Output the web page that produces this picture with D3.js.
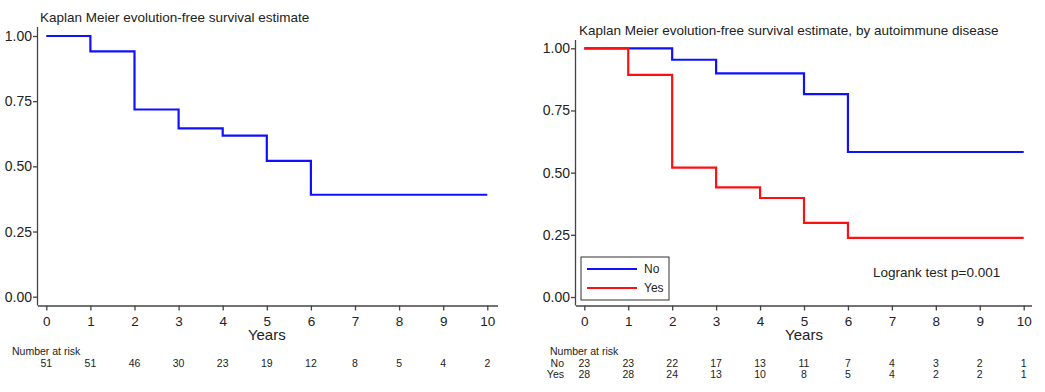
<!DOCTYPE html>
<html><head><meta charset="utf-8">
<script src="https://cdn.jsdelivr.net/npm/d3@7"></script>
<style>
body{margin:0;background:#fff;}
svg{display:block;font-family:"Liberation Sans",Arial,sans-serif;}
</style></head><body>
<svg id="c" width="1045" height="392"></svg>
<script>
// Data
const years = [0,1,2,3,4,5,6,7,8,9,10];
const yTicks = [0,0.25,0.5,0.75,1];
// Overall KM: step times and survival
const allTimes = [0,1,2,3,4,5,6,10];
const allSurv  = [1.0,0.941,0.718,0.646,0.618,0.521,0.391,0.391];
const allRisk  = [51,51,46,30,23,19,12,8,5,4,2];
// By autoimmune disease
const noTimes = [0,2,3,5,6,10];
const noSurv  = [1.0,0.954,0.899,0.816,0.583,0.583];
const yesTimes = [0,1,2,3,4,5,6,10];
const yesSurv  = [1.0,0.893,0.520,0.441,0.398,0.298,0.238,0.238];
const noRisk  = [23,23,22,17,13,11,7,4,3,2,1];
const yesRisk = [28,28,24,13,10,8,5,4,2,2,1];
const groups = ["No","Yes"];

const svg = d3.select("#c");
const axisCol = "#444";
const txtCol = "#222";

function panel(cfg){
  const g = svg.append("g");
  const x = d3.scaleLinear().domain([0,10]).range([cfg.x0,cfg.x1]);
  const y = d3.scaleLinear().domain([0,1]).range([cfg.y0,cfg.y1]);
  // axes
  const xa = g.append("g").attr("transform",`translate(0,${cfg.axY})`)
    .call(d3.axisBottom(x).tickValues(years).tickFormat(d3.format("d")).tickSize(5).tickSizeOuter(0));
  xa.select(".domain").attr("d",`M${cfg.axX},0.5H${cfg.axXend}`).attr("stroke",axisCol).attr("stroke-width",1.3);
  xa.selectAll(".tick line").attr("stroke",axisCol).attr("stroke-width",1.3);
  xa.selectAll(".tick text").attr("font-size",13.5).attr("fill",txtCol).attr("dy","0.95em").attr("font-family","Liberation Sans, Arial, sans-serif");
  const ya = g.append("g").attr("transform",`translate(${cfg.axX},0)`)
    .call(d3.axisLeft(y).tickValues(yTicks).tickFormat(d3.format(".2f")).tickSize(5).tickSizeOuter(0));
  ya.select(".domain").attr("d",`M-0.5,${cfg.axYtop}V${cfg.axY}`).attr("stroke",axisCol).attr("stroke-width",1.3);
  ya.selectAll(".tick line").attr("stroke",axisCol).attr("stroke-width",1.3);
  ya.selectAll(".tick text").attr("font-size",14).attr("fill",txtCol).attr("x",-6).attr("font-family","Liberation Sans, Arial, sans-serif");
  // title
  g.append("text").attr("x",cfg.titleX).attr("y",cfg.titleY).attr("font-size",13.5).attr("fill",txtCol).text(cfg.title);
  // x label
  g.append("text").attr("x",(cfg.x0+cfg.x1)/2).attr("y",cfg.axY+34.5).attr("text-anchor","middle").attr("font-size",15).attr("fill",txtCol).text("Years");
  // lines
  const line = d3.line().curve(d3.curveStepAfter).x(d=>x(d[0])).y(d=>y(d[1]));
  cfg.series.forEach(s=>{
    g.append("path").datum(d3.zip(s.t,s.s)).attr("d",line).attr("fill","none")
      .attr("stroke",s.color).attr("stroke-width",2.2);
  });
  // number at risk
  g.append("text").attr("x",cfg.nrX).attr("y",cfg.axY+49).attr("font-size",10.5).attr("fill",txtCol).text("Number at risk");
  cfg.risk.forEach((r,i)=>{
    const rowY = cfg.axY+61+i*11.6;
    if(r.label){
      g.append("text").attr("x",cfg.rowLabelX).attr("y",rowY).attr("text-anchor","end").attr("font-size",10.5).attr("fill",txtCol).text(r.label);
    }
    g.selectAll(null).data(r.v).enter().append("text")
      .attr("x",(d,j)=>x(years[j])).attr("y",rowY).attr("text-anchor","middle")
      .attr("font-size",10.5).attr("fill",txtCol).text(d=>d);
  });
  return {g,x,y};
}

panel({x0:46.3,x1:487.3,y0:296.7,y1:36,axX:38,axXend:498,axY:305.5,axYtop:27,
  title:"Kaplan Meier evolution-free survival estimate",titleX:40,titleY:22,
  series:[{t:allTimes,s:allSurv,color:"#1010ff"}],
  nrX:12,risk:[{v:allRisk}]});

const p2 = panel({x0:584.3,x1:1023.7,y0:297,y1:48.3,axX:576,axXend:1032,axY:305.5,axYtop:40,
  title:"Kaplan Meier evolution-free survival estimate, by autoimmune disease",titleX:579,titleY:35,
  series:[{t:noTimes,s:noSurv,color:"#1010ff"},{t:yesTimes,s:yesSurv,color:"#ff1010"}],
  nrX:550,rowLabelX:564,risk:[{label:groups[0],v:noRisk},{label:groups[1],v:yesRisk}]});

// legend
const lg = svg.append("g");
lg.append("rect").attr("x",581).attr("y",257).attr("width",88).attr("height",43).attr("fill","#fff").attr("stroke","#333").attr("stroke-width",1);
const legCols = ["#1010ff","#ff1010"];
groups.forEach((gname,i)=>{
  const ly = 269+i*19;
  lg.append("line").attr("x1",587).attr("x2",637).attr("y1",ly).attr("y2",ly).attr("stroke",legCols[i]).attr("stroke-width",2);
  lg.append("text").attr("x",644).attr("y",ly+4).attr("font-size",12).attr("fill",txtCol).text(gname);
});
svg.append("text").attr("x",873).attr("y",277).attr("font-size",13.5).attr("fill",txtCol).text("Logrank test p=0.001");
</script></body></html>
